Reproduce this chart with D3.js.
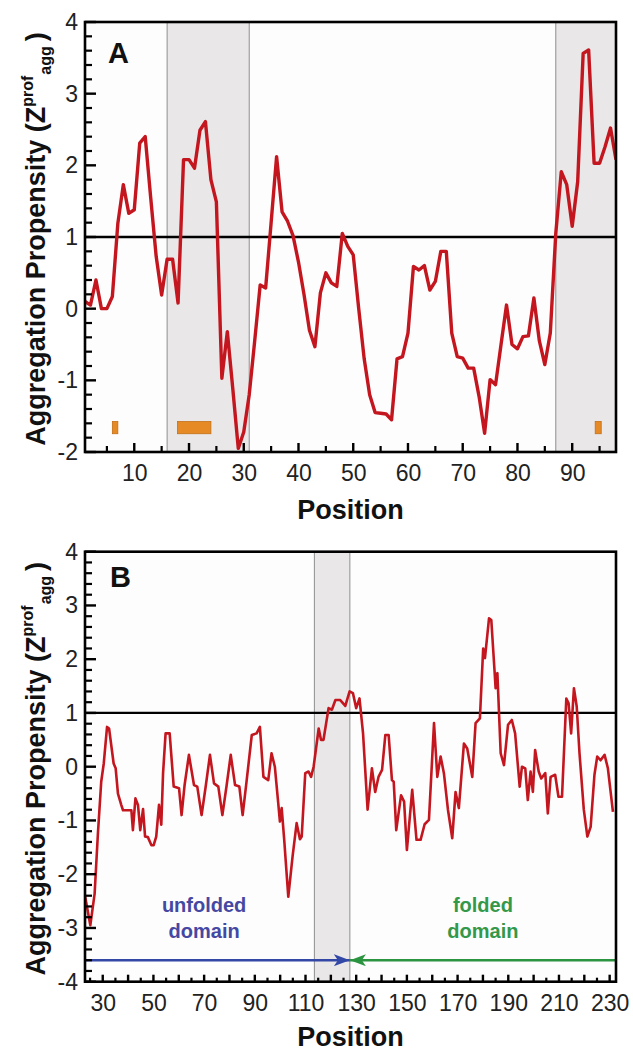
<!DOCTYPE html>
<html><head><meta charset="utf-8">
<script src="https://cdn.jsdelivr.net/npm/d3@7"></script>
<style>
body{margin:0;background:#fff}
svg{display:block}
text{font-family:"Liberation Sans",Arial,sans-serif}
</style>
</head><body>
<svg id="c" width="633" height="1053"></svg>
<script>
// ---------------- DATA ----------------
// Panel A: aggregation propensity per residue position
const posA = d3.range(1, 99);
const valA = [
  0.10, 0.05, 0.40, 0.00, 0.00, 0.17, 1.19, 1.73, 1.33, 1.38,
  2.31, 2.40, 1.55, 0.73, 0.19, 0.69, 0.69, 0.08, 2.08, 2.08,
  1.96, 2.49, 2.61, 1.80, 1.49, -0.97, -0.32, -1.12, -1.95, -1.72,
  -1.20, -0.45, 0.33, 0.29, 1.20, 2.12, 1.35, 1.22, 1.02, 0.65,
  0.20, -0.30, -0.53, 0.22, 0.50, 0.36, 0.31, 1.05, 0.87, 0.75,
  0.00, -0.70, -1.20, -1.45, -1.46, -1.47, -1.55, -0.70, -0.67, -0.34,
  0.59, 0.54, 0.60, 0.26, 0.38, 0.80, 0.80, -0.34, -0.67, -0.69,
  -0.83, -0.83, -1.23, -1.74, -0.99, -1.06, -0.50, 0.05, -0.50, -0.56,
  -0.39, -0.38, 0.15, -0.45, -0.78, -0.34, 1.05, 1.91, 1.73, 1.15,
  1.77, 3.56, 3.61, 2.03, 2.03, 2.26, 2.52, 2.08
];
const xDomainA = [1, 98];
const bandStartA = [16, 87];
const bandEndA = [31, 98];
const barStartA = [6.0, 17.9, 94.2];
const barEndA = [7.0, 24.0, 95.3];
const barLowA = -1.745, barHighA = -1.575;
const xLabelsA = [10, 20, 30, 40, 50, 60, 70, 80, 90];

// Panel B
const posB = [
  23.0, 25.1, 26.8, 28.1, 29.4, 30.4, 31.7, 32.5, 34.3, 35.1,
  36.0, 37.3, 38.0, 41.3, 41.9, 42.9, 43.9, 44.8, 45.9, 46.7,
  47.8, 49.2, 50.1, 51.1, 52.2, 53.1, 53.8, 54.8, 56.4, 58.0,
  60.1, 61.1, 62.3, 64.0, 66.0, 67.3, 69.0, 70.7, 72.3, 73.9,
  75.6, 77.2, 78.9, 80.5, 82.2, 83.9, 85.2, 86.8, 88.8, 90.7,
  92.0, 93.4, 95.3, 96.6, 97.9, 99.3, 99.9, 100.6, 101.6, 103.2,
  104.9, 106.5, 107.8, 108.5, 109.9, 111.2, 112.2, 113.2, 115.2, 116.1,
  117.1, 119.1, 120.4, 121.8, 123.7, 125.7, 127.4, 128.7, 130.0, 131.3,
  132.7, 134.5, 136.2, 137.5, 138.8, 140.2, 141.5, 142.8, 144.1, 144.8,
  145.8, 147.7, 148.9, 150.0, 152.1, 153.8, 155.4, 157.0, 158.7, 160.7,
  162.0, 163.3, 164.6, 166.2, 167.9, 169.2, 170.5, 172.5, 173.8, 175.8,
  177.1, 178.8, 180.1, 180.8, 182.4, 183.3, 184.6, 185.0, 185.7, 187.0,
  188.3, 189.9, 191.4, 192.7, 194.5, 195.4, 196.7, 197.7, 198.8, 199.7,
  200.6, 202.0, 203.0, 204.6, 205.6, 206.7, 208.5, 209.8, 211.2, 212.9,
  213.8, 214.8, 215.9, 217.0, 218.1, 219.8, 221.2, 222.5, 224.0, 225.1,
  226.4, 228.0, 229.3, 231.3
];
const valB = [
  -2.40, -2.95, -2.36, -1.24, -0.28, 0.06, 0.74, 0.71, 0.06, -0.03,
  -0.50, -0.71, -0.81, -0.81, -1.18, -0.59, -0.71, -1.18, -0.79, -1.30,
  -1.31, -1.46, -1.46, -1.30, -0.71, -1.08, -0.12, 0.62, 0.62, -0.37,
  -0.40, -0.90, -0.34, 0.22, -0.34, -0.37, -0.90, -0.34, 0.22, -0.31,
  -0.37, -0.90, -0.34, 0.22, -0.34, -0.37, -0.90, -0.25, 0.59, 0.62,
  0.74, -0.19, -0.25, 0.25, 0.00, -0.71, -1.02, -0.77, -1.36, -2.42,
  -1.67, -1.05, -1.35, -1.30, -0.12, -0.09, -0.19, 0.00, 0.71, 0.50,
  0.50, 1.09, 1.06, 1.24, 1.24, 1.13, 1.40, 1.37, 1.09, 1.27,
  0.62, -0.80, -0.03, -0.47, -0.19, -0.06, 0.59, 0.59, -0.25, -0.28,
  -1.18, -0.53, -0.65, -1.55, -0.43, -1.36, -1.36, -1.07, -0.99, 0.81,
  -0.19, 0.19, -0.12, -0.80, -1.33, -0.47, -0.77, 0.43, 0.34, -0.19,
  0.81, 0.90, 2.20, 2.02, 2.76, 2.73, 1.77, 1.46, 1.74, 0.25,
  0.03, 0.78, 0.87, 0.62, -0.37, 0.00, -0.03, -0.62, -0.09, -0.47,
  0.31, -0.09, -0.22, -0.12, -0.87, -0.19, -0.15, -0.56, -0.56, 1.27,
  1.18, 0.62, 1.46, 1.12, 0.25, -0.80, -1.30, -1.12, -0.15, 0.19,
  0.12, 0.22, -0.03, -0.84
];
const xDomainB = [23, 232.5];
const bandStartB = [113.5];
const bandEndB = [127.5];
const domainBoundaryB = 127.5;
const arrowLevelB = -3.6;
const xLabelsB = [30, 50, 70, 90, 110, 130, 150, 170, 190, 210, 230];
const domainTextB = [["unfolded", "domain"], ["folded", "domain"]];
const domainTextPosB = [70, 180];
const domainTextLevelB = -2.7;

const thresholdLine = 1;

// ---------------- DRAW ----------------
const svg = d3.select("#c");
const W = 531, H = 430, L = 85;
const FONT = '"Liberation Sans",Arial,sans-serif';
const fmt = d => String(d);

// tick marks drawn as small filled rectangles (inward)
function tickMarks(g, vals, scale, horizontal, len, w) {
  g.append("g").attr("class", "tickmarks").selectAll("rect").data(vals).join("rect")
    .attr("x", d => horizontal ? scale(d) - w / 2 : 0)
    .attr("y", d => horizontal ? H - len : scale(d) - w / 2)
    .attr("width", horizontal ? w : len)
    .attr("height", horizontal ? len : w)
    .attr("fill", "#000");
}

function panel(top, cfg) {
  const g = svg.append("g").attr("transform", `translate(${L},${top})`);
  const x = d3.scaleLinear().domain(cfg.xDomain).range([0, W]);
  const y = d3.scaleLinear().domain(cfg.yDomain).range([H, 0]);
  const clipId = "clip" + cfg.id;
  g.append("clipPath").attr("id", clipId).append("rect")
    .attr("x", 0).attr("y", 0).attr("width", W).attr("height", H);

  g.append("rect").attr("width", W).attr("height", H).attr("fill", "#fdfdfd");

  // grey bands
  cfg.bandStart.forEach((s, i) => {
    const e = cfg.bandEnd[i];
    g.append("rect").attr("x", x(s)).attr("y", 0)
      .attr("width", x(e) - x(s)).attr("height", H).attr("fill", "#e9e7e7");
    [s, e].forEach(v => {
      if (x(v) < W - 1) g.append("line").attr("x1", x(v)).attr("x2", x(v))
        .attr("y1", 0).attr("y2", H).attr("stroke", "#8f8f8f").attr("stroke-width", 1);
    });
  });

  // extras (bars / arrows)
  if (cfg.extra) cfg.extra(g, x, y);

  // threshold line
  g.append("line").attr("x1", 0).attr("x2", W).attr("y1", y(thresholdLine)).attr("y2", y(thresholdLine))
    .attr("stroke", "#000").attr("stroke-width", cfg.threshW);

  // data line
  const pts = cfg.pos.map((p, i) => [p, cfg.val[i]]);
  g.append("path").attr("clip-path", `url(#${clipId})`)
    .datum(pts)
    .attr("d", d3.line().x(d => x(d[0])).y(d => y(d[1])))
    .attr("fill", "none").attr("stroke", "#c3161f").attr("stroke-width", cfg.lineW)
    .attr("stroke-linejoin", "round");

  // inward tick marks
  const yMinor = d3.range(cfg.yDomain[0], cfg.yDomain[1] + 0.001, 0.2).map(v => +v.toFixed(1));
  const yMajor = d3.range(cfg.yDomain[0], cfg.yDomain[1] + 1, 1);
  tickMarks(g, yMinor.filter(v => !Number.isInteger(v)), y, false, 7, 2.2);
  tickMarks(g, yMajor, y, false, 11, 2.4);
  tickMarks(g, cfg.xMinor, x, true, cfg.minorLen, 2.2);
  tickMarks(g, cfg.xMajor, x, true, cfg.majorLen, 2.4);

  // tick labels through d3 axes (no lines)
  g.append("g").call(d3.axisLeft(y).tickValues(yMajor).tickSize(0).tickPadding(7).tickFormat(fmt))
    .call(a => a.select(".domain").remove())
    .call(a => a.selectAll("text").attr("fill", "#222").style("font-size", "23px").style("font-family", FONT));
  g.append("g").attr("transform", `translate(0,${H})`)
    .call(d3.axisBottom(x).tickValues(cfg.xLabels).tickSize(0).tickPadding(13).tickFormat(fmt))
    .call(a => a.select(".domain").remove())
    .call(a => a.selectAll("text").attr("fill", "#222").style("font-size", "23px").style("font-family", FONT));

  // frame
  g.append("rect").attr("width", W).attr("height", H).attr("fill", "none")
    .attr("stroke", "#000").attr("stroke-width", 2.6);

  // panel letter
  g.append("text").attr("x", cfg.letterX).attr("y", cfg.letterY).text(cfg.letter)
    .style("font-size", "29px").style("font-weight", "bold").attr("fill", "#111");

  // axis titles
  g.append("text").attr("x", W / 2).attr("y", cfg.posTitleY).attr("text-anchor", "middle")
    .style("font-size", "27px").style("font-weight", "bold").attr("fill", "#111").text("Position");

  const t = g.append("text").attr("transform", `translate(${-40},${H / 2 + 2}) rotate(-90)`)
    .attr("text-anchor", "middle").style("font-size", "27px").style("font-weight", "bold").attr("fill", "#111");
  t.append("tspan").text("Aggregation Propensity (Z");
  t.append("tspan").attr("dy", -12).style("font-size", "16px").text("prof");
  t.append("tspan").attr("dy", 18).attr("dx", 1).style("font-size", "16px").text("agg");
  t.append("tspan").attr("dy", -6).attr("dx", 5).text(")");
}

const fives = (d) => d3.range(Math.ceil(d[0] / 5) * 5, d[1] + 0.01, 5);

panel(22, {
  id: "A", xDomain: xDomainA, yDomain: [-2, 4], pos: posA, val: valA,
  bandStart: bandStartA, bandEnd: bandEndA,
  xLabels: xLabelsA, xMajor: xLabelsA, xMinor: fives(xDomainA).filter(v => v % 10 !== 0),
  majorLen: 9, minorLen: 6, lineW: 3.4, threshW: 2.6,
  letter: "A", letterX: 23, letterY: 41, posTitleY: 497,
  extra: (g, x, y) => {
    barStartA.forEach((s, i) => {
      g.append("rect").attr("x", x(s)).attr("y", y(barHighA))
        .attr("width", x(barEndA[i]) - x(s)).attr("height", y(barLowA) - y(barHighA))
        .attr("fill", "#e58a25").attr("stroke", "#c46f16").attr("stroke-width", 0.8);
    });
  }
});

panel(551.7, {
  id: "B", xDomain: xDomainB, yDomain: [-4, 4], pos: posB, val: valB,
  bandStart: bandStartB, bandEnd: bandEndB,
  xLabels: xLabelsB, xMajor: d3.range(30, 231, 10), xMinor: fives(xDomainB).filter(v => v % 10 !== 0),
  majorLen: 7, minorLen: 4, lineW: 2.6, threshW: 2.2,
  letter: "B", letterX: 25, letterY: 35, posTitleY: 494,
  extra: (g, x, y) => {
    const defs = svg.append("defs");
    const mk = (id, col) => defs.append("marker").attr("id", id)
      .attr("viewBox", "0 0 16 12").attr("refX", 16).attr("refY", 6)
      .attr("markerWidth", 16).attr("markerHeight", 12).attr("markerUnits", "userSpaceOnUse")
      .attr("orient", "auto")
      .append("path").attr("d", "M0,0 L16,6 L0,12 L4,6 Z").attr("fill", col);
    mk("arrBlue", "#3347a6");
    mk("arrGreen", "#2b9440");
    const ya = y(arrowLevelB);
    g.append("line").attr("x1", 0).attr("x2", x(domainBoundaryB)).attr("y1", ya).attr("y2", ya)
      .attr("stroke", "#3347a6").attr("stroke-width", 2.6).attr("marker-end", "url(#arrBlue)");
    g.append("line").attr("x1", W).attr("x2", x(domainBoundaryB)).attr("y1", ya).attr("y2", ya)
      .attr("stroke", "#2b9440").attr("stroke-width", 2.6).attr("marker-end", "url(#arrGreen)");
    const cols = ["#4548a3", "#34984a"];
    domainTextB.forEach((lines, i) => {
      const tx = g.append("text").attr("text-anchor", "middle")
        .style("font-size", "20px").style("font-weight", "bold").attr("fill", cols[i]);
      lines.forEach((s, j) => tx.append("tspan").attr("x", x(domainTextPosB[i]))
        .attr("y", y(domainTextLevelB) + j * 26).text(s));
    });
  }
});
</script>
</body></html>
